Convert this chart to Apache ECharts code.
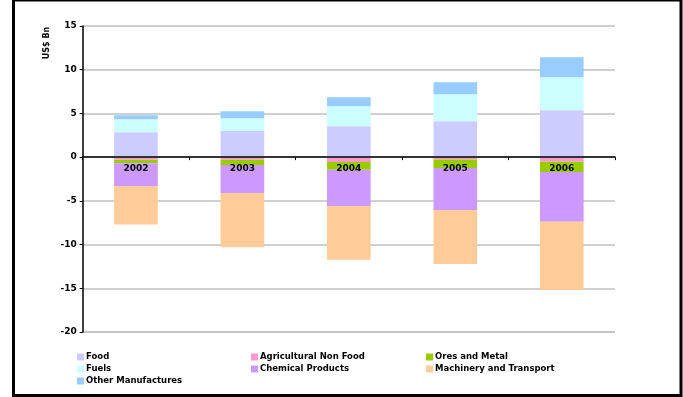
<!DOCTYPE html>
<html>
<head>
<meta charset="utf-8">
<script src="https://cdn.jsdelivr.net/npm/echarts@6/dist/echarts.min.js"></script>
<style>html,body{margin:0;padding:0;background:#fff;}#c{width:683px;height:397px;}</style>
</head>
<body>
<div id="c"></div>
<script>
var years = ['2002', '2003', '2004', '2005', '2006'];
var food = [2.86, 3.0, 3.54, 4.11, 5.37];
var agriNonFood = [-0.3, -0.3, -0.55, -0.27, -0.53];
var oresMetal = [-0.4, -0.6, -0.88, -0.98, -1.17];
var fuels = [1.48, 1.46, 2.29, 3.09, 3.77];
var chemical = [-2.6, -3.2, -4.15, -4.8, -5.7];
var machinery = [-4.4, -6.2, -6.17, -6.17, -7.8];
var otherManuf = [0.46, 0.8, 1.03, 1.37, 2.29];
var yTicks = { min: -20, max: 15, interval: 5 };

var FONT = 'DejaVu Sans';
var GRID_TOP = 26, GRID_BOTTOM = 65, H = 397;
var plotH = H - GRID_TOP - GRID_BOTTOM;
// move the category axis up to the zero line (labels and ticks follow)
var zeroOffset = -plotH * (0 - yTicks.min) / (yTicks.max - yTicks.min);

var chart = echarts.init(document.getElementById('c'));

function s(name, data, color) {
  return {
    name: name, type: 'bar', stack: 'total', data: data,
    barWidth: '41%', itemStyle: { color: color }, emphasis: { disabled: true }
  };
}

var legendBase = {
  orient: 'vertical', icon: 'rect', itemWidth: 7, itemHeight: 7, itemGap: 0,
  padding: 0, top: 351,
  textStyle: { fontFamily: FONT, fontWeight: 'bold', fontSize: 8.5, color: '#000', lineHeight: 12, padding: [0, 0, 0, -3] }
};

chart.setOption({
  animation: false,
  grid: { left: 82.7, right: 68, top: GRID_TOP, bottom: GRID_BOTTOM },
  legend: [
    Object.assign({}, legendBase, { left: 77, data: ['Food', 'Fuels', 'Other Manufactures'] }),
    Object.assign({}, legendBase, { left: 251, data: ['Agricultural Non Food', 'Chemical Products'] }),
    Object.assign({}, legendBase, { left: 426, data: ['Ores and Metal', 'Machinery and Transport'] })
  ],
  xAxis: {
    type: 'category', data: years, z: 10, position: 'bottom', offset: zeroOffset,
    axisLine: { onZero: false, lineStyle: { color: '#000', width: 1.5 } },
    axisTick: { show: true, length: 3, lineStyle: { color: '#000' } },
    axisLabel: { fontFamily: FONT, fontWeight: 'bold', fontSize: 9, color: '#000', margin: 7 },
    splitLine: { show: false }
  },
  yAxis: {
    type: 'value', min: yTicks.min, max: yTicks.max, interval: yTicks.interval,
    axisLine: { show: true, lineStyle: { color: '#000', width: 1.5 } },
    axisTick: { show: true, length: 3, lineStyle: { color: '#000' } },
    axisLabel: { fontFamily: FONT, fontWeight: 'bold', fontSize: 9, color: '#000', margin: 6 },
    splitLine: { show: true, lineStyle: { color: '#c0c0c0', width: 1.5 } }
  },
  graphic: [
    { type: 'text', x: 47, y: 43, rotation: Math.PI / 2,
      style: { text: 'US$ Bn', fontFamily: FONT, fontWeight: 'bold', fontSize: 8, fill: '#000', align: 'center', verticalAlign: 'middle' } },
    { type: 'line', shape: { x1: 82.7, y1: H - GRID_BOTTOM, x2: 615, y2: H - GRID_BOTTOM },
      style: { stroke: '#c0c0c0', lineWidth: 1.5 }, silent: true },
    { type: 'rect', shape: { x: 13.5, y: 0, width: 667.5, height: 395.5 },
      style: { fill: 'none', stroke: '#000', lineWidth: 3 }, silent: true }
  ],
  series: [
    s('Food', food, '#CCCCFF'),
    s('Agricultural Non Food', agriNonFood, '#FF99CC'),
    s('Ores and Metal', oresMetal, '#99CC00'),
    s('Fuels', fuels, '#CCFFFF'),
    s('Chemical Products', chemical, '#CC99FF'),
    s('Machinery and Transport', machinery, '#FFCC99'),
    s('Other Manufactures', otherManuf, '#99CCFF')
  ]
});
</script>
</body>
</html>
